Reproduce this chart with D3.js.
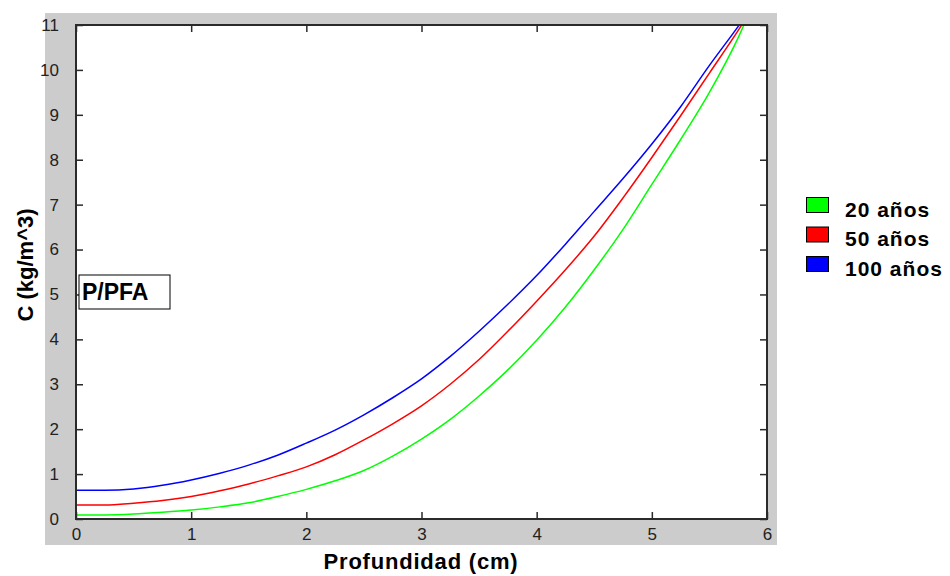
<!DOCTYPE html>
<html>
<head>
<meta charset="utf-8">
<script src="https://cdn.jsdelivr.net/npm/d3@7"></script>
<style>
  html, body { margin: 0; padding: 0; background: #fff; }
  svg { display: block; }
  text { font-family: "Liberation Sans", Arial, sans-serif; }
</style>
</head>
<body>
<svg id="chart" width="950" height="576"></svg>
<script>
// Depth (cm) at which chloride concentration is sampled
const depth = [0, 0.25, 0.5, 0.75, 1, 1.25, 1.5, 1.75, 2, 2.25, 2.5, 2.75, 3,
  3.25, 3.5, 3.75, 4, 4.25, 4.5, 4.75, 5, 5.25, 5.5, 5.75, 5.8];

// Concentration C (kg/m^3) after each exposure time
const c20 = [0.09, 0.09, 0.11, 0.15, 0.20, 0.27, 0.36, 0.50, 0.66, 0.85, 1.08, 1.40, 1.78,
  2.22, 2.74, 3.32, 3.98, 4.72, 5.55, 6.45, 7.45, 8.45, 9.50, 10.72, 11.0];
const c50 = [0.31, 0.31, 0.35, 0.41, 0.50, 0.63, 0.78, 0.96, 1.16, 1.43, 1.76, 2.12, 2.52,
  3.00, 3.55, 4.18, 4.85, 5.55, 6.30, 7.15, 8.05, 8.98, 9.93, 10.88, 11.08];
const c100 = [0.64, 0.64, 0.67, 0.75, 0.87, 1.02, 1.20, 1.42, 1.69, 1.98, 2.32, 2.70, 3.12,
  3.62, 4.18, 4.78, 5.42, 6.12, 6.85, 7.58, 8.35, 9.18, 10.10, 10.97, 11.15];

const seriesNames = ["20 años", "50 años", "100 años"];
const seriesColors = ["#00ff00", "#ff0000", "#0000ff"];
const seriesValues = [c20, c50, c100];

const xTicks = [0, 1, 2, 3, 4, 5, 6];
const yTicks = [0, 1, 2, 3, 4, 5, 6, 7, 8, 9, 10, 11];

const svg = d3.select("#chart");

// Plot area bounds
const L = 76, R = 767, T = 25, B = 519;

const x = d3.scaleLinear().domain([0, 6]).range([L, R]);
const y = d3.scaleLinear().domain([0, 11]).range([B, T]);

// Grey figure panel behind the axes
svg.append("rect")
  .attr("x", 45).attr("y", 13)
  .attr("width", 777 - 45).attr("height", 545 - 13)
  .attr("fill", "#cccccc");

svg.append("rect")
  .attr("x", L).attr("y", T)
  .attr("width", R - L).attr("height", B - T)
  .attr("fill", "#ffffff");

svg.append("clipPath").attr("id", "plotClip")
  .append("rect")
  .attr("x", L).attr("y", T)
  .attr("width", R - L).attr("height", B - T);

// Curves
const line = d3.line()
  .x((d, i) => x(depth[i]))
  .y(d => y(d))
  .curve(d3.curveMonotoneX);

const curves = svg.append("g").attr("clip-path", "url(#plotClip)");
seriesValues.forEach((vals, k) => {
  curves.append("path")
    .datum(vals)
    .attr("d", line)
    .attr("fill", "none")
    .attr("stroke", seriesColors[k])
    .attr("stroke-width", 1.5);
});

// Axes with inward ticks on all four sides
const tickLen = 7;
const axisColor = "#2a2a2a";

function styleAxis(g) {
  g.select(".domain").remove();
  g.selectAll(".tick line").attr("stroke", axisColor).attr("stroke-width", 1.5);
  g.selectAll(".tick text")
    .attr("fill", "#222")
    .style("font-family", "'Liberation Sans', Arial, sans-serif")
    .style("font-size", "17px");
}

svg.append("g")
  .attr("transform", `translate(0,${B})`)
  .call(d3.axisBottom(x).tickValues(xTicks).tickFormat(d3.format("d"))
    .tickSizeInner(-tickLen).tickSizeOuter(0).tickPadding(9))
  .call(styleAxis);

svg.append("g")
  .attr("transform", `translate(0,${T})`)
  .call(d3.axisTop(x).tickValues(xTicks).tickFormat("")
    .tickSizeInner(-tickLen).tickSizeOuter(0))
  .call(styleAxis);

svg.append("g")
  .attr("transform", `translate(${L},0)`)
  .call(d3.axisLeft(y).tickValues(yTicks).tickFormat(d3.format("d"))
    .tickSizeInner(-tickLen).tickSizeOuter(0).tickPadding(tickLen + 10))
  .call(styleAxis);

svg.append("g")
  .attr("transform", `translate(${R},0)`)
  .call(d3.axisRight(y).tickValues(yTicks).tickFormat("")
    .tickSizeInner(-tickLen).tickSizeOuter(0))
  .call(styleAxis);

// Plot frame
svg.append("rect")
  .attr("x", L).attr("y", T)
  .attr("width", R - L).attr("height", B - T)
  .attr("fill", "none")
  .attr("stroke", axisColor)
  .attr("stroke-width", 2);

// Axis titles
svg.append("text")
  .attr("x", 421).attr("y", 569)
  .attr("text-anchor", "middle")
  .attr("font-weight", "bold")
  .attr("font-size", 22)
  .attr("letter-spacing", 0.8)
  .attr("fill", "#000")
  .text("Profundidad (cm)");

svg.append("text")
  .attr("transform", "translate(33,265) rotate(-90)")
  .attr("text-anchor", "middle")
  .attr("font-weight", "bold")
  .attr("font-size", 22)
  .attr("fill", "#000")
  .text("C (kg/m^3)");

// Material label box
svg.append("rect")
  .attr("x", 79).attr("y", 275)
  .attr("width", 91).attr("height", 34)
  .attr("fill", "#fff")
  .attr("stroke", "#000")
  .attr("stroke-width", 1);

svg.append("text")
  .attr("x", 82).attr("y", 300)
  .attr("font-weight", "bold")
  .attr("font-size", 23)
  .attr("fill", "#000")
  .text("P/PFA");

// Legend
const legend = svg.append("g");
seriesNames.forEach((name, k) => {
  const top = 197 + k * 29.5;
  legend.append("rect")
    .attr("x", 806.5).attr("y", top + 0.5)
    .attr("width", 22).attr("height", 15)
    .attr("fill", seriesColors[k])
    .attr("stroke", "#000")
    .attr("stroke-width", 1);
  legend.append("text")
    .attr("x", 845).attr("y", top + 19.5)
    .attr("font-weight", "bold")
    .attr("font-size", 21)
    .attr("letter-spacing", 1)
    .attr("fill", "#000")
    .text(name);
});
</script>
</body>
</html>
